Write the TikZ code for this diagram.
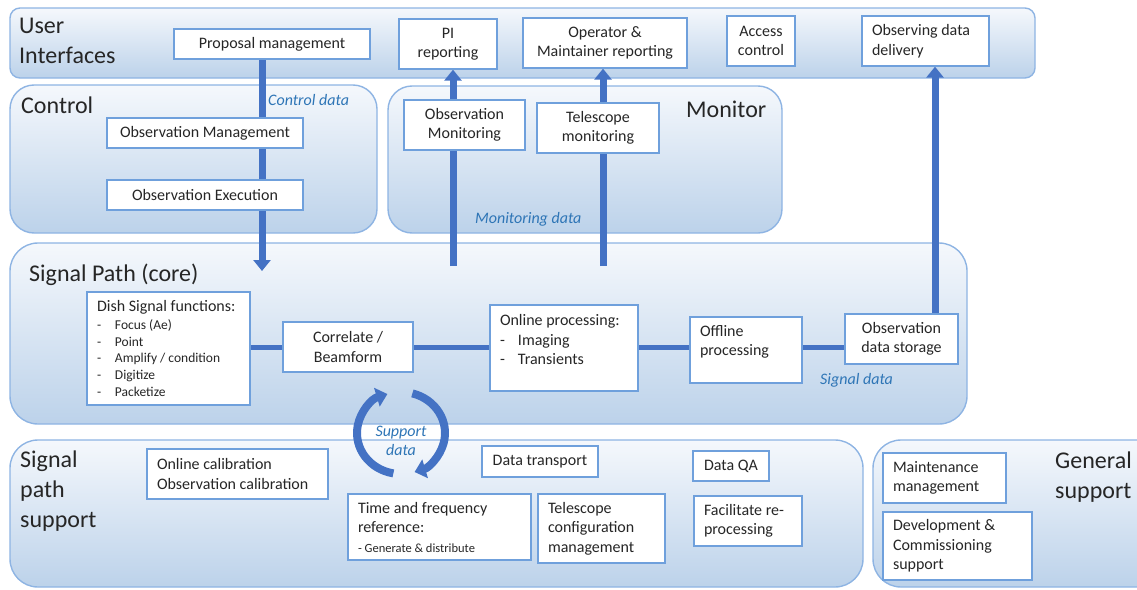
\documentclass[tikz,border=0pt]{standalone}
\usepackage{fontspec}
\setmainfont{Carlito}
\usepackage{xcolor}
\usepackage{tikz}
\usetikzlibrary{arrows.meta}
\definecolor{ink}{HTML}{262626}
\definecolor{paneledge}{HTML}{8EB4E3}
\definecolor{panetop}{HTML}{F5F8FC}
\definecolor{panebot}{HTML}{BCD2EA}
\definecolor{boxedge}{HTML}{6FA0DC}
\definecolor{flow}{HTML}{4472C4}
\definecolor{flowlab}{HTML}{2E75B6}
\pgfdeclarelayer{panels}
\pgfdeclarelayer{flows}
\pgfsetlayers{panels,flows,main}
\newcommand{\dashitem}[1]{\makebox[18pt][l]{-}#1}
\tikzset{
  panel/.style={draw=paneledge, line width=1.4pt, top color=panetop, bottom color=panebot},
  ptitle/.style={text=ink, font=\fontsize{24}{30}\selectfont, inner sep=0pt, align=left, anchor=base west},
  fnbox/.style={draw=boxedge, fill=white, line width=1.3pt, inner sep=0pt, text=ink, font=\fontsize{16}{19.5}\selectfont, align=center},
  lbox/.style={fnbox, align=flush left, text width=#1pt},
  sz/.style 2 args={minimum width=#1pt, minimum height=#2pt},
  dataflow/.style={draw=flow, line width=7pt, -{Triangle[width=17pt,length=11pt]}},
  sigline/.style={draw=flow, line width=5pt},
  cycarrow/.style={draw=flow, line width=8pt, -{Triangle[width=19pt,length=11pt]}},
  flowlabel/.style={text=flowlab, font=\fontsize{16}{19}\selectfont\itshape, inner sep=0pt},
}

\begin{document}
\begin{tikzpicture}[x=1pt,y=-1pt]
  \useasboundingbox (0,0) rectangle (1137,589);

  % panels
  \begin{pgfonlayer}{panels}
    \draw[panel, rounded corners=10pt] (10,8) rectangle (1035,78);
    \draw[panel, rounded corners=24pt] (10,85) rectangle (377,233);
    \draw[panel, rounded corners=24pt] (388,86) rectangle (782,233);
    \draw[panel, rounded corners=28pt] (10,243) rectangle (967,424);
    \draw[panel, rounded corners=28pt] (10,440) rectangle (863,587);
    \begin{scope}
      \clip (0,0) rectangle (1137,589);
      \draw[panel, rounded corners=28pt] (873,440) rectangle (1170,587);
    \end{scope}
  \end{pgfonlayer}

  % titles (base = last line)
  \node[ptitle] (uititle) at (19,63) {User\\Interfaces};
  \node[ptitle] (ctrltitle) at (21,113) {Control};
  \node[ptitle] (montitle) at (686,117) {Monitor};
  \node[ptitle] (sigtitle) at (29,281) {Signal Path (core)};
  \node[ptitle] (spstitle) at (20,527) {Signal\\path\\support};
  \node[ptitle] (gentitle) at (1055,498) {General\\support};

  % user interfaces
  \node[fnbox, sz={196}{30}] (propmgmt) at (272,44) {Proposal management};
  \node[fnbox, sz={98}{50}] (pirep) at (448,44) {PI\\reporting};
  \node[fnbox, sz={164}{50}] (oprep) at (605,43) {Operator \&\\Maintainer reporting};
  \node[fnbox, sz={68}{50}] (access) at (761,41) {Access\\control};
  \node[lbox=107, sz={127}{50}] (deliver) at (925.5,41) {Observing data\\delivery};

  % control and monitor
  \node[fnbox, sz={196}{30}] (obsmgmt) at (205,133) {Observation Management};
  \node[fnbox, sz={196}{30}] (obsexec) at (205,195) {Observation Execution};
  \node[fnbox, sz={121}{50}] (obsmon) at (464.5,125) {Observation\\Monitoring};
  \node[fnbox, sz={122}{50}] (telmon) at (598,128) {Telescope\\monitoring};

  % signal path
  \node[lbox=143, sz={163}{113}, font=\fontsize{16}{16.8}\selectfont] (dish) at (168.5,348.5)
    {Dish Signal functions:\\[1pt]
     {\fontsize{13.5}{16.8}\selectfont \dashitem{Focus (Ae)}\\ \dashitem{Point}\\
      \dashitem{Amplify / condition}\\ \dashitem{Digitize}\\ \dashitem{Packetize}}};
  \node[fnbox, sz={130}{50}] (corr) at (348,347) {Correlate /\\Beamform};
  \node[lbox=128, sz={148}{86}] (online) at (564,348)
    {Online processing:\\ \dashitem{Imaging}\\ \dashitem{Transients}\\[-3pt]~};
  \node[lbox=92, sz={112}{66}] (offline) at (746,350) {Offline\\processing\\~};
  \node[fnbox, sz={113}{50}] (storage) at (901.5,339) {Observation\\data storage};

  % signal path support
  \node[lbox=161, sz={181}{50}] (cal) at (237.5,474) {Online calibration\\Observation calibration};
  \node[fnbox, sz={116}{31}] (transport) at (540,461.5) {Data transport};
  \node[lbox=163, sz={183}{66}] (timeref) at (439.5,527)
    {Time and frequency\\reference:\\{\fontsize{12.5}{15}\selectfont - Generate \& distribute}};
  \node[lbox=107, sz={127}{69}] (telconf) at (601.5,528.5) {Telescope\\configuration\\management};
  \node[fnbox, sz={76}{30}] (dataqa) at (731,466) {Data QA};
  \node[lbox=88, sz={108}{50}] (reproc) at (748,521) {Facilitate re-\\processing};

  % general support
  \node[lbox=103, sz={123}{50}] (maint) at (944.5,478) {Maintenance\\management};
  \node[lbox=129, sz={149}{68}] (devcomm) at (957.5,546) {Development \&\\Commissioning\\support};

  % data labels
  \node[flowlabel, anchor=west] (ctrllab) at (268,100) {Control data};
  \node[flowlabel, anchor=west] (monlab) at (475,219) {Monitoring data};
  \node[flowlabel, anchor=west] (siglab) at (820,380) {Signal data};
  \node[flowlabel, align=center] (suplab) at (401,441) {Support\\data};

  % flows
  \coordinate (ctrlx) at (262,0);
  \coordinate (ctrlend) at (262,271);
  \coordinate (monA) at (453,266);
  \coordinate (monB) at (603,266);
  \coordinate (dlvx) at (935,0);
  \coordinate (sig) at (0,347);
  \coordinate (cyc) at (401,433);
  \begin{pgfonlayer}{flows}
    \draw[dataflow] (propmgmt.south -| ctrlx) -- (ctrlend);
    \draw[dataflow] (monA) -- (monA |- pirep.south);
    \draw[dataflow] (monB) -- (monB |- oprep.south);
    \draw[dataflow] (storage.north -| dlvx) -- (deliver.south -| dlvx);
    \draw[sigline] (dish.east |- sig) -- (corr.west |- sig);
    \draw[sigline] (corr.east |- sig) -- (online.west |- sig);
    \draw[sigline] (online.east |- sig) -- (offline.west |- sig);
    \draw[sigline] (offline.east |- sig) -- (storage.west |- sig);
    \draw[cycarrow] (cyc) ++(100:44 and 41) arc[start angle=100, end angle=252, x radius=44, y radius=41];
    \draw[cycarrow] (cyc) ++(285:44 and 41) arc[start angle=285, end angle=432, x radius=44, y radius=41];
  \end{pgfonlayer}
\end{tikzpicture}
\end{document}
